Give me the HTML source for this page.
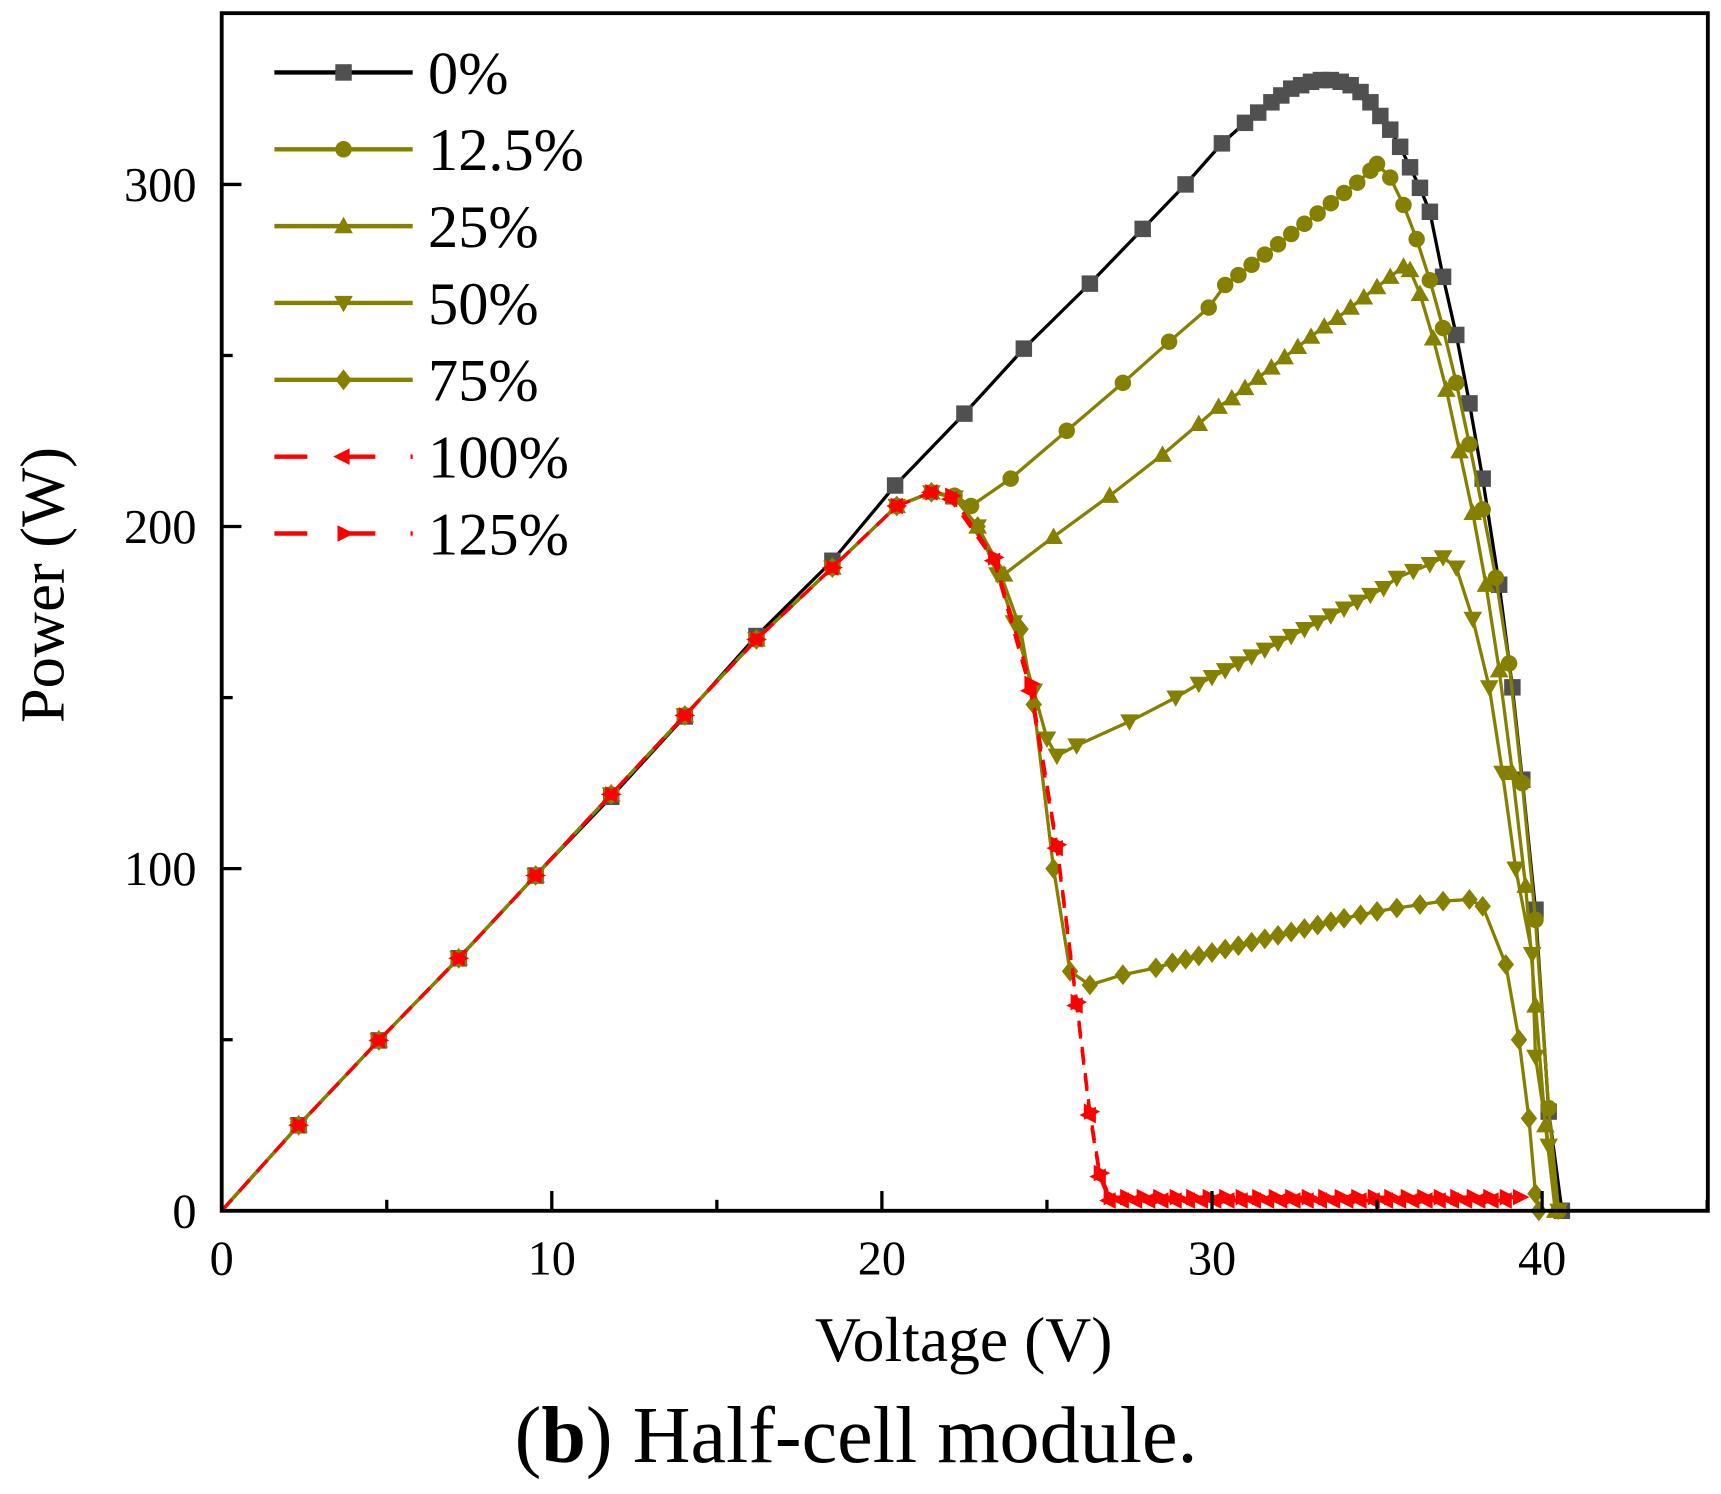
<!DOCTYPE html>
<html><head><meta charset="utf-8"><style>
html,body{margin:0;padding:0;background:#fff;}
svg{display:block;}
text{font-family:"Liberation Serif",serif;fill:#000;}
</style></head><body>
<svg id="chart" width="1721" height="1494" viewBox="0 0 1568 1361" preserveAspectRatio="none" xmlns="http://www.w3.org/2000/svg">
<rect width="1568" height="1361" fill="#fff"/>
<g id="marks"></g>
<rect x="202" y="12" width="1354" height="1091" fill="none" stroke="#000" stroke-width="3.5"/>
<g id="axes"></g>
<g id="legend"></g>
<text x="878" y="1240" font-size="58" text-anchor="middle">Voltage (V)</text>
<text transform="translate(58,533) rotate(-90)" font-size="57" text-anchor="middle">Power (W)</text>
<text x="780" y="1332" font-size="73" text-anchor="middle">(<tspan font-weight="bold">b</tspan>) Half-cell module.</text>
</svg>
<script>
const xTicks=[0,10,20,30,40];
const xMinor=[5,15,25,35,45];
const yTicks=[0,100,200,300];
const yMinor=[50,150,250,350];
const seriesNames=["0%","12.5%","25%","50%","75%","100%","125%"];
const linV=[0,2.33,4.76,7.18,9.51,11.8,14.03,16.2,18.5,20.45];
const linP=[0,25,49.8,73.8,98,121.7,144.8,167,188,206];
const v0=[0,2.33,4.76,7.18,9.51,11.8,14.03,16.2,18.5,20.4,22.5,24.3,26.3,27.9,29.2,30.3,31.0,31.4,31.8,32.1,32.4,32.7,33.0,33.3,33.6,33.9,34.2,34.5,34.8,35.1,35.4,35.7,36.0,36.3,36.6,37.0,37.4,37.8,38.2,38.7,39.1,39.4,39.8,40.2,40.6];
const p0=[0,25,49.8,73.8,98,121,144.5,168,190,212,233,252,271,287,300,312,318,321,324,326,328,329,330,330.5,330.5,330,329,327,324,320,316,311,305,299,292,273,256,236,214,183,153,126,88,29,0];
const v12=[21.5,22.2,22.7,23.9,25.6,27.3,28.7,29.9,30.4,30.8,31.2,31.6,32.0,32.4,32.8,33.2,33.6,34.0,34.4,34.8,35.0,35.4,35.8,36.2,36.6,37.0,37.4,37.8,38.2,38.6,39.0,39.4,39.8,40.2,40.5];
const p12=[210,209,206,214,228,242,254,264,270.6,273.5,276.5,279.5,282.5,285.5,288.5,291.5,294.5,297.5,300.5,304,306,302,294,284,272,258,242,224,205,185,160,125,85,30,0];
const v25=[21.5,22.2,22.9,23.7,25.2,26.9,28.5,29.6,30.2,30.6,31.0,31.4,31.8,32.2,32.6,33.0,33.4,33.8,34.2,34.6,35.0,35.4,35.8,36.0,36.3,36.7,37.1,37.5,37.9,38.3,38.7,39.1,39.5,39.8,40.1,40.4];
const p25=[210,208.5,200,186,197,209,221,230,235,237.5,240.5,243.5,246.5,249.5,252.5,255.5,258.5,261,264,267,270,273,276,275,268,255,240,222,204,183,158,128,95,60,25,0];
const v50=[21.5,22.2,22.9,23.5,24.0,24.6,25.0,25.3,25.9,27.5,28.9,29.6,30.0,30.4,30.8,31.2,31.6,32.0,32.4,32.8,33.2,33.6,34.0,34.4,34.8,35.2,35.6,36.1,36.6,37.0,37.4,37.9,38.4,38.8,39.2,39.7,39.8,40.2,40.5];
const p50=[210,208.5,200,186,172,152,138,133,136,143,150,154,156,158,160,162,164,166,168,170,172,174,176,178,180,182,185,187,189,191,188,173,153,128,100,75,45,19,0];
const v75=[21.5,22.2,22.9,23.6,24.2,24.6,25.2,25.7,26.3,27.3,28.3,28.8,29.2,29.6,30.0,30.4,30.8,31.2,31.6,32.0,32.4,32.8,33.2,33.6,34.0,34.5,35.0,35.6,36.3,37.0,37.8,38.2,38.9,39.3,39.6,39.8,39.9];
const p75=[210,208.5,200,186,170,148,100,70,66,69,71,72.5,73.5,74.5,75.5,76.5,77.5,78.5,79.5,80.5,81.5,82.5,83.5,84.5,85.5,86.5,87.5,88.5,89.5,90.5,91,89,72,50,27,5,0];
const v100=[21.5,22.1,23.4,24.5,25.3,25.9,26.3,26.6,26.9,27.3,27.7,28.1,28.5,28.9,29.3,29.7,30.1,30.5,30.9,31.3,31.7,32.1,32.5,32.9,33.3,33.7,34.1,34.5,34.9,35.3,35.7,36.1,36.5,36.9,37.3,37.7,38.1,38.5,38.9];
const p100=[210,208,190,152,106,60,28,10,3,3,3,3,3,3,3,3,3,3,3,3,3,3,3,3,3,3,3,3,3,3,3,3,3,3,3,3,3,3,3];
const v125=[21.5,22.1,23.4,24.5,25.3,25.9,26.3,26.6,26.9,27.4,27.9,28.4,28.9,29.4,29.9,30.4,30.9,31.4,31.9,32.4,32.9,33.4,33.9,34.4,34.9,35.4,35.9,36.4,36.9,37.4,37.9,38.4,38.9,39.3];
const p125=[210,209,191,154,107,61,29,11,4,4,4,4,4,4,4,4,4,4,4,4,4,4,4,4,4,4,4,4,4,4,4,4,4,4];

const NS="http://www.w3.org/2000/svg";
const X=v=>202+v*(1203/40);
const Y=p=>1103-p*(1103-168)/300;
const marks=document.getElementById('marks');
const axes=document.getElementById('axes');
const legend=document.getElementById('legend');
function mk(tag,attrs,parent){const e=document.createElementNS(NS,tag);for(const k in attrs)e.setAttribute(k,attrs[k]);parent.appendChild(e);return e;}
function markerShape(type,cx,cy,color,parent){
  const s=7.5;let e;
  if(type==='square')e=mk('rect',{x:cx-s,y:cy-s,width:2*s,height:2*s,fill:color},parent);
  else if(type==='circle')e=mk('circle',{cx:cx,cy:cy,r:s,fill:color},parent);
  else if(type==='up')e=mk('polygon',{points:`${cx},${cy-s-1} ${cx-s-1},${cy+s-1} ${cx+s+1},${cy+s-1}`,fill:color},parent);
  else if(type==='down')e=mk('polygon',{points:`${cx},${cy+s+1} ${cx-s-1},${cy-s+1} ${cx+s+1},${cy-s+1}`,fill:color},parent);
  else if(type==='diamond')e=mk('polygon',{points:`${cx},${cy-s-2} ${cx+s},${cy} ${cx},${cy+s+2} ${cx-s},${cy}`,fill:color},parent);
  else if(type==='left')e=mk('polygon',{points:`${cx-s-2},${cy} ${cx+s-2},${cy-s} ${cx+s-2},${cy+s}`,fill:color},parent);
  else e=mk('polygon',{points:`${cx+s+2},${cy} ${cx-s+2},${cy-s} ${cx-s+2},${cy+s}`,fill:color},parent);
  return e;
}
const olive="#858000";
const defs=[
 {v:v0,p:p0,line:"#000",mc:"#505050",m:"square",dash:null,shared:false},
 {v:v12,p:p12,line:olive,mc:olive,m:"circle",dash:null,shared:true},
 {v:v25,p:p25,line:olive,mc:olive,m:"up",dash:null,shared:true},
 {v:v50,p:p50,line:olive,mc:olive,m:"down",dash:null,shared:true},
 {v:v75,p:p75,line:olive,mc:olive,m:"diamond",dash:null,shared:true},
 {v:v100,p:p100,line:"#ff0000",mc:"#ff0000",m:"left",dash:"14,10",shared:true},
 {v:v125,p:p125,line:"#ff0000",mc:"#ff0000",m:"right",dash:"14,10",shared:true}
];
defs.forEach((d,i)=>{
  const V=d.shared?linV.concat(d.v):d.v;
  const P=d.shared?linP.concat(d.p):d.p;
  const g=mk('g',{},marks);
  
  
  const pl=mk('polyline',{points:V.map((v,j)=>X(v)+','+Y(P[j])).join(' '),fill:'none',stroke:d.line,'stroke-width':3,'stroke-linejoin':'round'},g);
  if(d.dash)pl.setAttribute('stroke-dasharray',d.dash);
  
  
  V.forEach((v,j)=>{
    if(j===0)return;
    const m=markerShape(d.m,X(v),Y(P[j]),d.mc,g);
    
    
  });
});
xTicks.forEach(t=>{
  const l=mk('line',{x1:X(t),x2:X(t),y1:1103,y2:1085,stroke:'#000','stroke-width':3},axes);
  
  
  const tx=mk('text',{x:X(t),y:1161,'font-size':44,'text-anchor':'middle'},axes);
  tx.textContent=t;
  
  
});
xMinor.forEach(t=>{
  const l=mk('line',{x1:X(t),x2:X(t),y1:1103,y2:1093,stroke:'#000','stroke-width':3},axes);
  
  
});
yTicks.forEach(t=>{
  const l=mk('line',{x1:202,x2:220,y1:Y(t),y2:Y(t),stroke:'#000','stroke-width':3},axes);
  
  
  const tx=mk('text',{x:179,y:Y(t)+15,'font-size':44,'text-anchor':'end'},axes);
  tx.textContent=t;
  
  
});
yMinor.forEach(t=>{
  const l=mk('line',{x1:202,x2:212,y1:Y(t),y2:Y(t),stroke:'#000','stroke-width':3},axes);
  
  
});
defs.forEach((d,i)=>{
  const y=66+i*70;
  const g=mk('g',{},legend);
  
  
  const ln=mk('line',{x1:250,x2:376,y1:y,y2:y,stroke:d.line,'stroke-width':4},g);
  if(d.dash)ln.setAttribute('stroke-dasharray','30,32');
  markerShape(d.m,313,y,d.mc,g);
  const t=mk('text',{x:390,y:y+19,'font-size':55},g);
  t.textContent=seriesNames[i];
});
</script>
</body></html>
